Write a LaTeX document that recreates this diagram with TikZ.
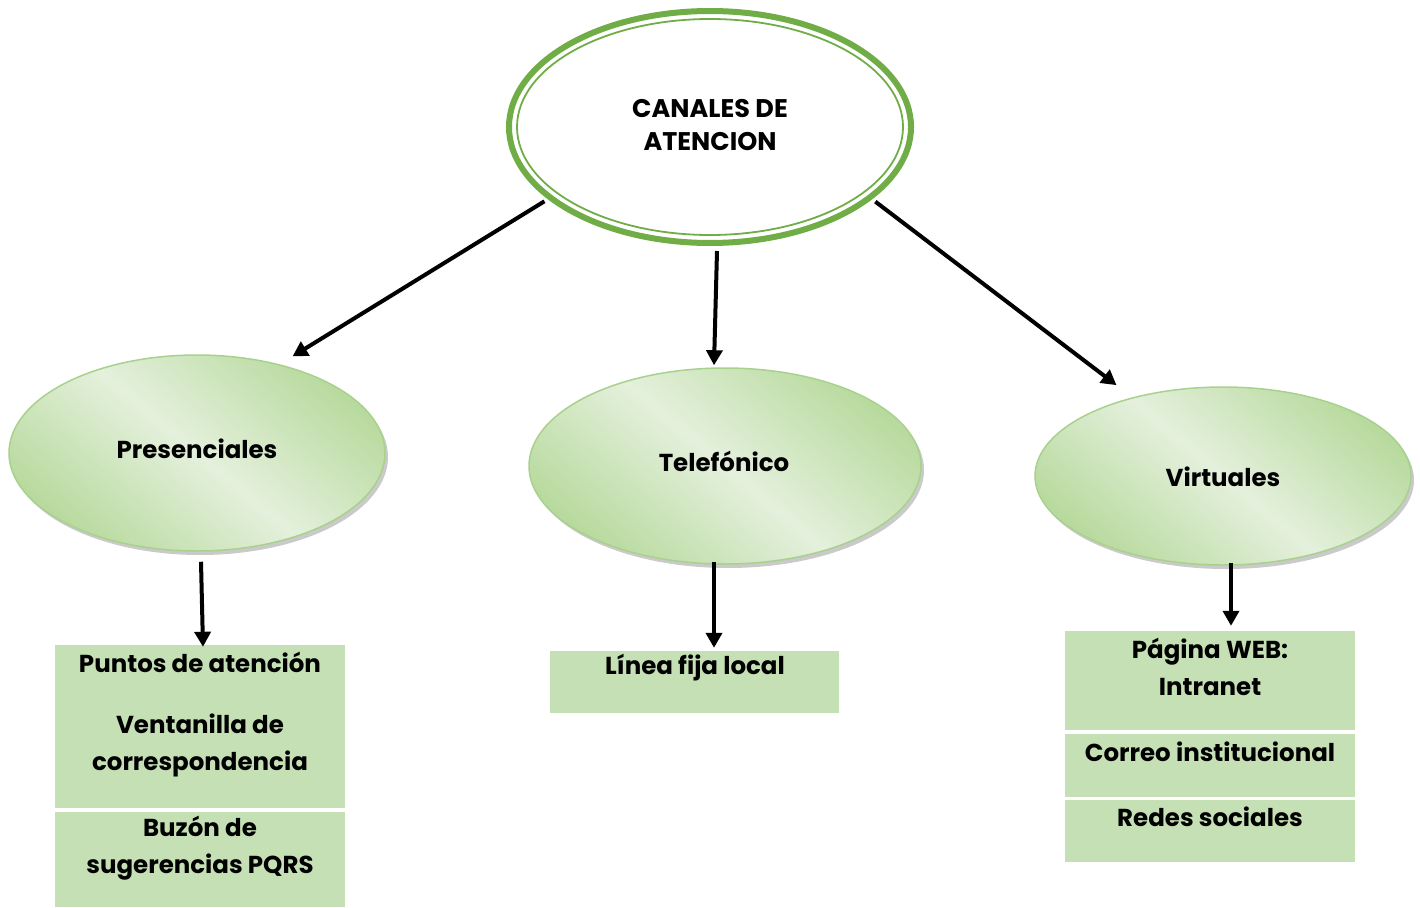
\documentclass[tikz,border=0pt]{standalone}
\usepackage{fontspec}
\setmainfont{Poppins}
\usetikzlibrary{shapes.geometric,arrows.meta,shadows}
\definecolor{gline}{HTML}{70AD47}
\definecolor{boxg}{HTML}{C5E0B4}
\definecolor{elb}{HTML}{A9D18E}
\definecolor{ell}{HTML}{E4F0DC}
\definecolor{eld}{HTML}{B8DA9E}
\tikzset{
  lbl/.style={font=\fontsize{24.5}{37}\selectfont\bfseries, align=center, inner sep=0pt},
  chan/.style={ellipse, draw=elb, line width=1.5pt, inner sep=0pt,
    shading=axis, top color=eld, bottom color=eld, middle color=ell, shading angle=-40,
    drop shadow={shadow xshift=3pt, shadow yshift=-4pt, fill=black!35, opacity=0.6}},
  itembox/.style={rectangle, fill=boxg, draw=none, inner sep=0pt, minimum width=290pt},
  arr/.style={line width=4pt, -{Triangle[length=15pt,width=16pt]}},
}
\begin{document}
\begin{tikzpicture}[x=1pt,y=-1pt]
\useasboundingbox (0,0) rectangle (1420,907);
% top ellipse
\node[ellipse, draw=gline, line width=6pt, minimum width=402pt, minimum height=232pt, inner sep=0pt] (top) at (710,127) {};
\node[ellipse, draw=gline, line width=1.8pt, minimum width=386pt, minimum height=216pt, inner sep=0pt] (topin) at (710,127) {};
\node[lbl, font=\fontsize{25.5}{33}\selectfont\bfseries] (toptxt) at (710,125) {CANALES DE\\ATENCION};
% channels
\node[chan, minimum width=376pt, minimum height=196pt] (pres) at (197,453) {};
\node[lbl] (prest) at (197,449) {Presenciales};
\node[chan, minimum width=392pt, minimum height=196pt] (tel) at (725,466) {};
\node[lbl] (telt) at (724,461) {Telefónico};
\node[chan, minimum width=376pt, minimum height=178pt] (virt) at (1223,476) {};
\node[lbl] (virtt) at (1223,477) {Virtuales};
% boxes
\node[itembox, minimum height=163pt] (b1) at (200,726.5) {};
\node[itembox, minimum height=95pt] (b2) at (200,859.5) {};
\node[itembox, minimum width=289pt, minimum height=62pt] (m1) at (694.5,682) {};
\node[itembox, minimum height=99pt] (r1) at (1210,680.5) {};
\node[itembox, minimum height=63pt] (r2) at (1210,765.5) {};
\node[itembox, minimum height=62pt] (r3) at (1210,831) {};
% box texts
\node[lbl] (t1a) at (200,662) {Puntos de atención};
\node[lbl] (t1b) at (200,745.5) {Ventanilla de\\correspondencia};
\node[lbl] (t2) at (200,848.5) {Buzón de\\sugerencias PQRS};
\node[lbl] (tm) at (695,668) {Línea fija local};
\node[lbl] (tr1) at (1210,667) {Página WEB:\\Intranet};
\node[lbl] (tr2) at (1210,752) {Correo institucional};
\node[lbl] (tr3) at (1210,817) {Redes sociales};
% arrows
\draw[arr, shorten <=4pt, shorten >=15pt] (top.204) -- (pres.47);
\draw[arr] ([xshift=7pt,yshift=-5pt]top.south) -- ([xshift=-11pt,yshift=2pt]tel.north);
\draw[arr, shorten <=4pt, shorten >=20pt] (top.-24.6) -- (virt.139.8);
\draw[arr] ([xshift=4pt,yshift=-10pt]pres.south) -- ([xshift=3pt,yshift=-2pt]b1.north);
\draw[arr] ([xshift=-11pt,yshift=3pt]tel.south) -- ([xshift=19.5pt,yshift=3pt]m1.north);
\draw[arr] ([xshift=8pt,yshift=3pt]virt.south) -- ([xshift=21pt,yshift=5pt]r1.north);
\end{tikzpicture}
\end{document}
